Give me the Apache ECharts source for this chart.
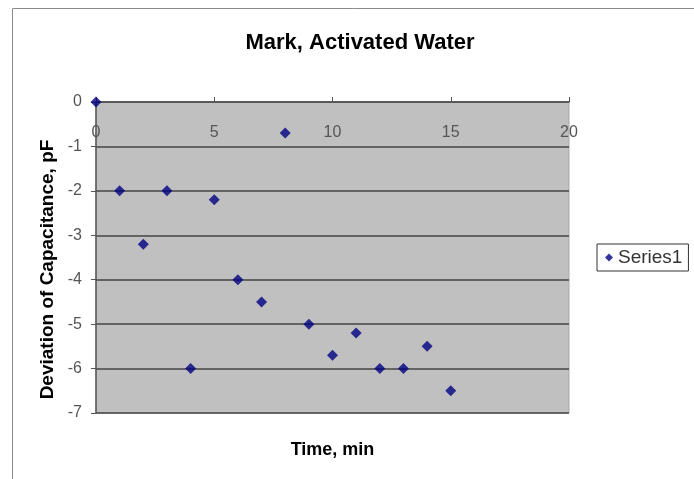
<!DOCTYPE html>
<html>
<head>
<meta charset="utf-8">
<script src="https://cdn.jsdelivr.net/npm/echarts@6/dist/echarts.min.js"></script>
<style>html,body{margin:0;padding:0;background:#fff;}#c{width:694px;height:479px;}</style>
</head>
<body>
<div id="c"></div>
<script>
var timeMin = [0, 1, 2, 3, 4, 5, 6, 7, 8, 9, 10, 11, 12, 13, 14, 15];
var deviation = [0, -2, -3.2, -2, -6, -2.2, -4, -4.5, -0.7, -5, -5.7, -5.2, -6, -6, -5.5, -6.5];
var xTicks = [0, 5, 10, 15, 20];
var yTicks = [0, -1, -2, -3, -4, -5, -6, -7];

var pts = timeMin.map(function (t, i) { return [t, deviation[i]]; });
var font = 'Liberation Sans, Arial, sans-serif';

var chart = echarts.init(document.getElementById('c'));
chart.setOption({
  animation: false,
  backgroundColor: '#ffffff',
  graphic: [{
    type: 'rect', shape: { x: 12.5, y: 8.5, width: 700, height: 500 },
    style: { fill: 'none', stroke: '#8a8a8a', lineWidth: 1 }, z: -1
  }],
  title: {
    text: 'Mark, Activated Water', left: 355, top: 27, textAlign: 'center',
    textStyle: { fontFamily: font, fontWeight: 'bold', fontSize: 22, color: '#000' }
  },
  legend: {
    data: ['Series1'], left: 597, top: 244, orient: 'vertical',
    borderColor: '#333', borderWidth: 1, padding: [4, 6, 4, 8],
    itemWidth: 8, itemHeight: 8, itemGap: 4,
    textStyle: { fontFamily: font, fontSize: 19, color: '#333' }
  },
  grid: {
    left: 96, right: 125, top: 102, bottom: 66, show: true,
    backgroundColor: '#c0c0c0', borderColor: '#a8a8a8', borderWidth: 1
  },
  xAxis: [{
    type: 'value', position: 'top', min: xTicks[0], max: xTicks[xTicks.length - 1], interval: 5,
    axisLine: { show: true, onZero: false, lineStyle: { color: '#555', width: 1.5 } },
    axisTick: { show: true, inside: false, length: 5, lineStyle: { color: '#555' } },
    axisLabel: { inside: true, margin: 23, fontFamily: font, fontSize: 16, color: '#555' },
    splitLine: { show: false }
  }, {
    type: 'value', position: 'bottom', min: 0, max: 20,
    name: 'Time, min', nameLocation: 'middle', nameGap: 28,
    nameTextStyle: { fontFamily: font, fontWeight: 'bold', fontSize: 18, color: '#000' },
    axisLine: { show: false }, axisTick: { show: false }, axisLabel: { show: false },
    splitLine: { show: false }
  }],
  yAxis: {
    type: 'value', min: yTicks[yTicks.length - 1], max: yTicks[0], interval: 1,
    name: 'Deviation of Capacitance, pF', nameLocation: 'middle', nameGap: 34,
    nameTextStyle: { fontFamily: font, fontWeight: 'bold', fontSize: 19, color: '#000', padding: [0, 24, 0, 0] },
    axisLine: { show: true, onZero: false, lineStyle: { color: '#555', width: 1.5 } },
    axisTick: { show: true, length: 5, lineStyle: { color: '#555' } },
    axisLabel: { margin: 14, fontFamily: font, fontSize: 16, color: '#555' },
    splitLine: { show: true, lineStyle: { color: '#444', width: 1.5 } }
  },
  series: [{
    name: 'Series1', type: 'scatter', xAxisIndex: 0, data: pts,
    symbol: 'diamond', symbolSize: 11,
    itemStyle: { color: '#000080' }
  }]
});
</script>
</body>
</html>
